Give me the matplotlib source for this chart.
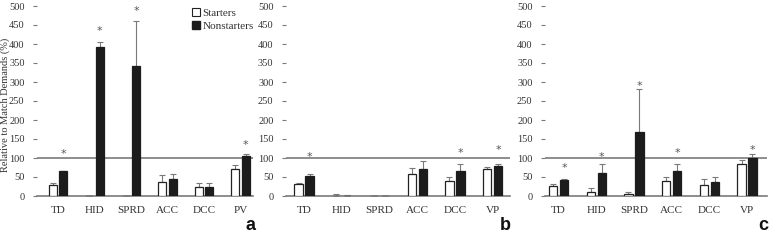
import matplotlib
matplotlib.use("Agg")
import matplotlib.pyplot as plt
from matplotlib.lines import Line2D

# --- data ---
cats_a = ["TD", "HID", "SPRD", "ACC", "DCC", "PV"]
cats_bc = ["TD", "HID", "SPRD", "ACC", "DCC", "VP"]

# panel a
start_a = [30, 0, 0, 38, 23, 70]
start_a_err = [5, 0, 0, 17, 10, 11]
non_a = [65, 392, 342, 44, 24, 104]
non_a_err = [2, 14, 119, 15, 9, 6]
star_a = [119, 443, 494, None, None, 141]

# panel b
start_b = [31, 0, 0, 57, 39, 72]
start_b_err = [3, 4, 0, 18, 10, 5]
non_b = [53, 1, 0, 70, 65, 79]
non_b_err = [6, 1, 0, 23, 18, 6]
star_b = [110, None, None, None, 121, 130]

# panel c
start_c = [27, 11, 4, 40, 30, 83]
start_c_err = [4, 9, 6, 11, 14, 13]
non_c = [41, 60, 168, 67, 37, 100]
non_c_err = [3, 23, 114, 16, 14, 10]
star_c = [82, 110, 298, 120, None, 128]

panels = [
    ("a", cats_a, start_a, start_a_err, non_a, non_a_err, star_a),
    ("b", cats_bc, start_b, start_b_err, non_b, non_b_err, star_b),
    ("c", cats_bc, start_c, start_c_err, non_c, non_c_err, star_c),
]

plt.rcParams["font.family"] = ["Liberation Serif", "DejaVu Serif"]
txt = "#333333"
gray = "#7a7a7a"

fig = plt.figure(figsize=(7.7, 2.41), dpi=100)
W, H = 770, 241
# axes boxes in pixels: left, right, xlim
boxes = [(37, 253, (-0.58, 5.34)), (286, 510, (-0.48, 5.46)), (545, 767, (-0.36, 5.53))]
letter_x = [250, 505, 763]
y0, y1 = 196, 6

w = 0.22
off = 0.145
for (letter, cats, s, se, n, ne, stars), (l, r, xl), lx in zip(panels, boxes, letter_x):
    ax = fig.add_axes([l / W, 1 - y0 / H, (r - l) / W, (y0 - y1) / H])
    x = list(range(len(cats)))
    xs = [i - off for i in x]
    xn = [i + off for i in x]
    ax.bar(xs, s, width=w, color="white", edgecolor="#222222", linewidth=0.9, zorder=3)
    ax.bar(xn, n, width=w, color="#1c1c1c", edgecolor="#1c1c1c", linewidth=0.9, zorder=3)
    ax.errorbar(xs, s, yerr=[[0] * len(s), se], fmt="none", ecolor=gray,
                elinewidth=0.8, capsize=2, capthick=0.8, zorder=2)
    ax.errorbar(xn, n, yerr=[[0] * len(n), ne], fmt="none", ecolor=gray,
                elinewidth=0.8, capsize=2, capthick=0.8, zorder=2)
    for i, yv in enumerate(stars):
        if yv is not None:
            ax.text(xn[i], yv - 8, "*", ha="center", va="center", fontsize=8,
                    color="#555555", family="DejaVu Sans")
    ax.axhline(100, color=gray, linewidth=1.2, zorder=1)
    ax.set_xlim(*xl)
    ax.set_ylim(0, 500)
    ax.set_yticks(range(0, 501, 50))
    ax.set_xticks(x)
    ax.set_xticklabels(cats)
    for sp in ["top", "right", "left"]:
        ax.spines[sp].set_visible(False)
    ax.spines["bottom"].set_color(gray)
    ax.spines["bottom"].set_linewidth(1.2)
    ax.tick_params(axis="y", length=3, width=0.8, color=gray, pad=6,
                   labelsize=7.5, labelcolor=txt)
    ax.tick_params(axis="x", length=0, pad=7, labelsize=8, labelcolor=txt)
    fig.text(lx / W, 1 - 225 / H, letter, ha="center", va="center",
             fontsize=13, fontweight="bold", family="Liberation Sans", color="#111111")
    if letter == "a":
        ax.set_ylabel("Relative to Match Demands (%)", fontsize=7.5, color=txt)
        ax.yaxis.set_label_coords((10.5 - l) / (r - l), 0.48)
        handles = [
            Line2D([], [], marker="s", linestyle="none", markersize=6,
                   markerfacecolor="white", markeredgecolor="#222222", markeredgewidth=0.8),
            Line2D([], [], marker="s", linestyle="none", markersize=6,
                   markerfacecolor="#1c1c1c", markeredgecolor="#1c1c1c"),
        ]
        ax.legend(handles, ["Starters", "Nonstarters"], loc="upper left",
                  bbox_to_anchor=(0.70, 1.01), frameon=False, fontsize=8,
                  handlelength=0.6, handletextpad=0.3, labelspacing=0.25,
                  borderaxespad=0, labelcolor=txt)

fig.savefig("out.png", dpi=100)
